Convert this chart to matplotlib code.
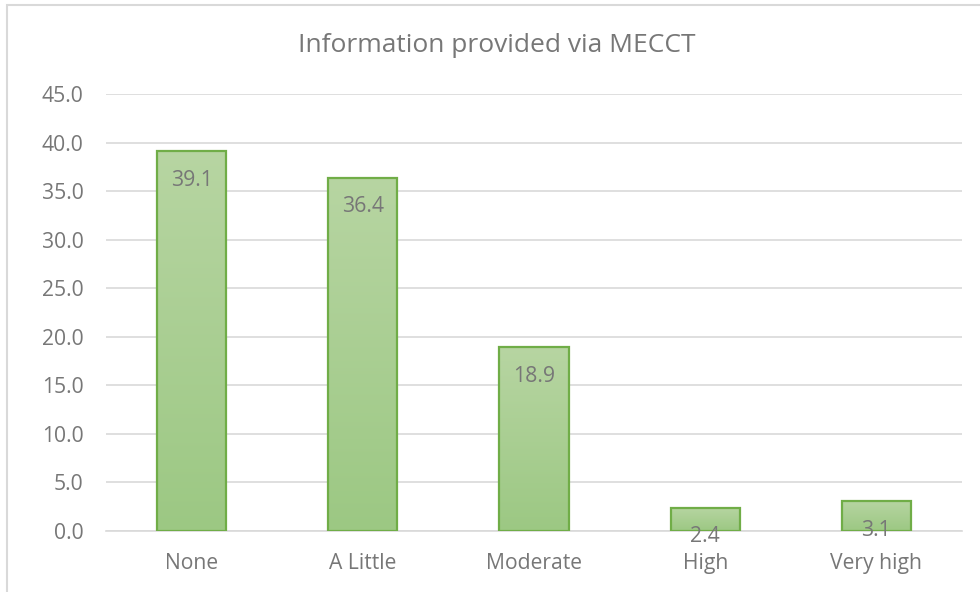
import numpy as np
import matplotlib.pyplot as plt
from matplotlib.colors import LinearSegmentedColormap
from matplotlib.patches import Rectangle

# data
categories = ['None', 'A Little', 'Moderate', 'High', 'Very high']
values = [39.1, 36.4, 18.9, 2.4, 3.1]
title = 'Information provided via MECCT'

plt.rcParams['font.family'] = ['Open Sans', 'DejaVu Sans']
text_grey = '#777777'

fig = plt.figure(figsize=(9.8, 5.92), dpi=100)
# outer chart border (left and top visible only, picture is cropped)
fig.patches.append(Rectangle((7 / 980, -0.1), 1.2, 1 - 5 / 592 + 0.1,
                             transform=fig.transFigure, fill=False,
                             edgecolor='#d9d9d9', linewidth=1.5, zorder=0))

ax = fig.add_axes([106 / 980, 1 - 531 / 592, (962 - 106) / 980, (531 - 94) / 592])
x = np.arange(len(categories))
bars = ax.bar(x, values, width=0.405, facecolor='none', edgecolor='#70ad47',
              linewidth=1.6, zorder=3)

# vertical gradient fill inside each bar
cmap = LinearSegmentedColormap.from_list('g', ['#9cc883', '#b7d5a2'])
grad = np.linspace(0, 1, 256).reshape(-1, 1)
for b in bars:
    x0, w, h = b.get_x(), b.get_width(), b.get_height()
    im = ax.imshow(grad, cmap=cmap, origin='lower', aspect='auto',
                   extent=[x0, x0 + w, 0, h], zorder=2)
    im.set_clip_path(b)

for xi, v in zip(x, values):
    ax.annotate(f'{v:.1f}', (xi, v), xytext=(0, -21), textcoords='offset points',
                ha='center', va='center', fontsize=15.3, color=text_grey, zorder=4)

ax.set_xlim(-0.5, len(categories) - 0.5)
ax.set_ylim(0, 45)
ax.set_yticks(np.arange(0, 45.1, 5))
ax.set_yticklabels([f'{t:.1f}' for t in np.arange(0, 45.1, 5)])
ax.set_xticks(x)
ax.set_xticklabels(categories)
ax.tick_params(axis='both', length=0, labelsize=15.2, labelcolor=text_grey)
ax.tick_params(axis='x', pad=16)
ax.tick_params(axis='y', pad=16)
ax.grid(axis='y', color='#d9d9d9', linewidth=1.2, zorder=0)
ax.set_axisbelow(True)
for s in ['left', 'right', 'top']:
    ax.spines[s].set_visible(False)
ax.spines['bottom'].set_color('#d9d9d9')
ax.spines['bottom'].set_linewidth(1.2)

fig.text(497 / 980, 1 - 45 / 592, title, ha='center', va='center',
         fontsize=19, color=text_grey)

fig.savefig('out.png', dpi=100)
